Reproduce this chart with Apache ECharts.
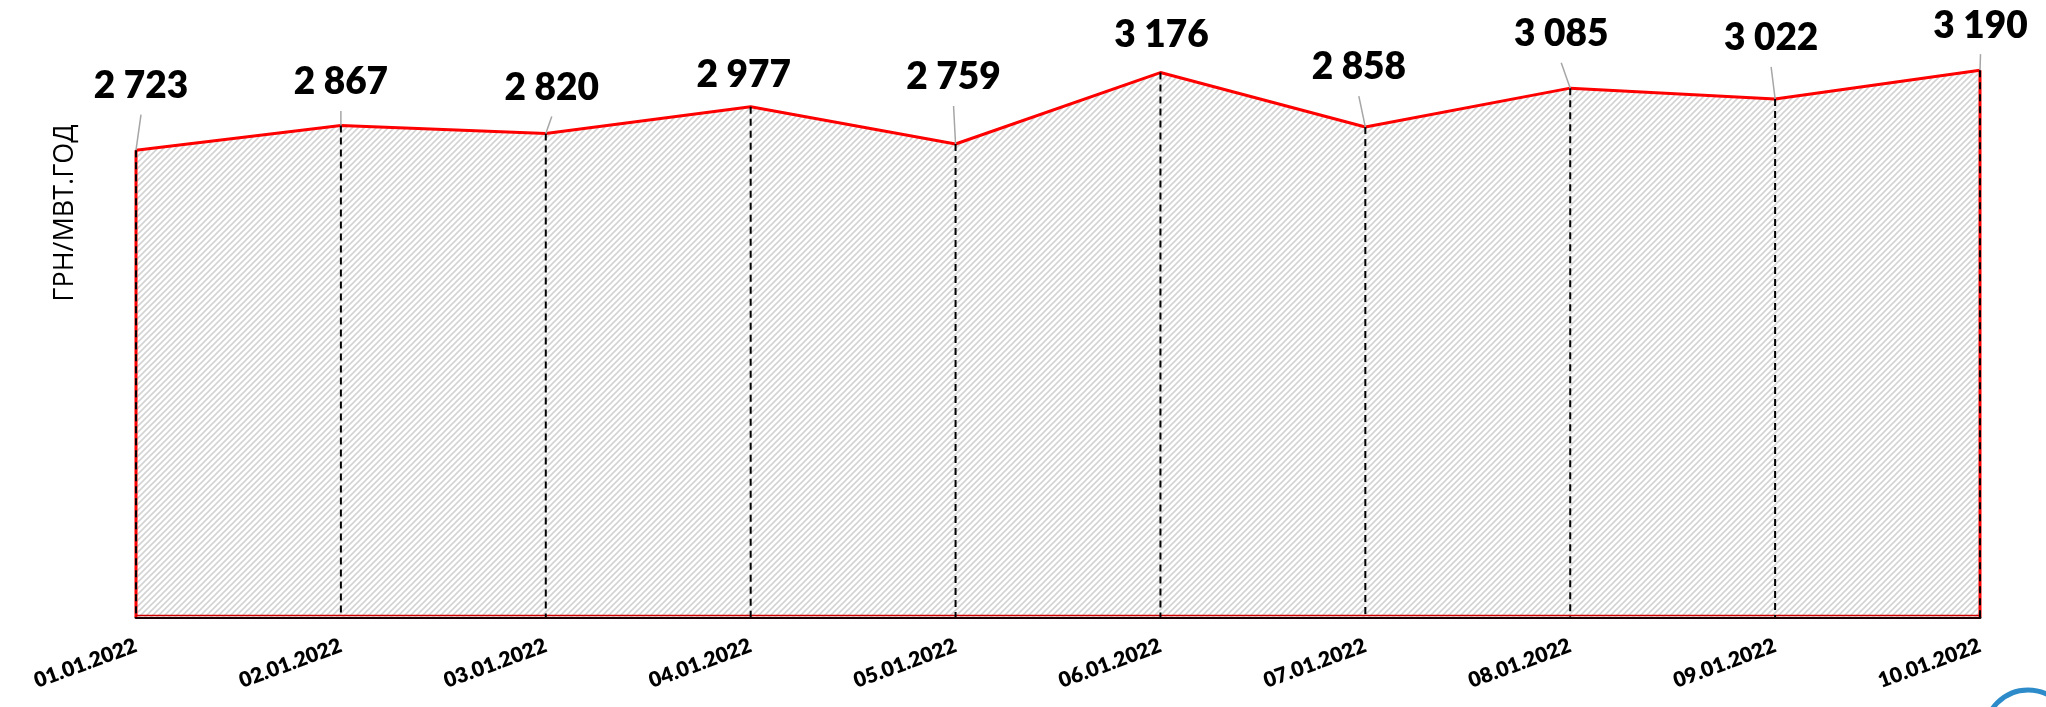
<!DOCTYPE html>
<html>
<head>
<meta charset="utf-8">
<script src="https://cdn.jsdelivr.net/npm/echarts@6/dist/echarts.min.js"></script>
<style>
html,body{margin:0;padding:0;background:#fff;}
#c{width:2046px;height:707px;}
</style>
</head>
<body>
<div id="c"></div>
<script>
// ---- data ----
const categories = ['01.01.2022','02.01.2022','03.01.2022','04.01.2022','05.01.2022',
                    '06.01.2022','07.01.2022','08.01.2022','09.01.2022','10.01.2022'];
const prices = [2723, 2867, 2820, 2977, 2759, 3176, 2858, 3085, 3022, 3190];
const yAxisTitle = 'ГРН/МВТ.ГОД';

// ---- label layout (style only): dx, dy of the label centre from its point, leader line on/off ----
const labelShift = [[5,-64,1],[0,-43,1],[6,-45.5,1],[-7,-31.5,0],[-2,-66.5,1],
                    [1,-37.5,0],[-6.5,-59.5,1],[-9,-54,1],[-4,-60.5,1],[0.5,-44.5,1]];

function fmt(v){ return String(v).replace(/\B(?=(\d{3})+(?!\d))/g, ' '); }

function hatch(){
  const n = 6;
  const c = document.createElement('canvas');
  c.width = n; c.height = n;
  const g = c.getContext('2d');
  g.fillStyle = '#ffffff'; g.fillRect(0,0,n,n);
  g.strokeStyle = '#d3d3d3'; g.lineWidth = 1.6;
  g.beginPath();
  g.moveTo(-1,n+1); g.lineTo(n+1,-1);
  g.moveTo(-1,1); g.lineTo(1,-1);
  g.moveTo(n-1,n+1); g.lineTo(n+1,n-1);
  g.stroke();
  return c;
}

const points = prices.map((v,i) => [i, v]);
const chart = echarts.init(document.getElementById('c'), null, {renderer:'canvas'});

chart.setOption({
  animation: false,
  backgroundColor: '#ffffff',
  grid: {left: 136, right: 66, top: 17, bottom: 90, containLabel: false},
  xAxis: {
    type: 'category',
    data: categories,
    boundaryGap: false,
    axisTick: {show: false},
    splitLine: {show: false},
    axisLine: {lineStyle: {color: '#1a0000', width: 3}},
    axisLabel: {
      interval: 0, rotate: 20, margin: 28,
      fontFamily: 'Lato', fontWeight: 800, fontSize: 21, color: '#000'
    }
  },
  yAxis: {
    type: 'value', min: 0, max: 3500,
    axisLine: {show: false}, axisTick: {show: false},
    axisLabel: {show: false}, splitLine: {show: false}
  },
  graphic: [
    {type: 'text', x: 65, y: 213, rotation: Math.PI/2,
     style: {text: yAxisTitle, fontFamily: 'Open Sans', fontSize: 27, fill: '#000',
             align: 'center', verticalAlign: 'middle'}},
    {type: 'arc', shape: {cx: 2028, cy: 733, r: 43, startAngle: Math.PI, endAngle: 2*Math.PI, clockwise: true},
     style: {stroke: '#2e8bc9', lineWidth: 5, fill: null}}
  ],
  series: [
    {
      type: 'line',
      data: prices,
      symbol: 'none',
      lineStyle: {color: '#ff0000', width: 3},
      areaStyle: {color: {image: hatch(), repeat: 'repeat'}, opacity: 1},
      z: 2
    },
    {
      type: 'custom',
      data: points,
      encode: {x: 0, y: 1},
      z: 3,
      renderItem: function(params, api){
        const i = api.value(0), v = api.value(1);
        const top = api.coord([i, v]);
        const bot = api.coord([i, 0]);
        const last = i === prices.length - 1;
        const children = [];
        if (i === 0 || last) {
          children.push({type:'line', shape:{x1:top[0], y1:top[1], x2:bot[0], y2:bot[1]},
                         style:{stroke:'#ff0000', lineWidth:3}});
        }
        if (i === 0) {
          const e = api.coord([prices.length - 1, 0]);
          children.push({type:'line', shape:{x1:bot[0], y1:bot[1]-1.5, x2:e[0], y2:e[1]-1.5},
                         style:{stroke:'#d00000', lineWidth:1.5}});
        }
        children.push({type:'line', shape:{x1:top[0], y1:top[1], x2:bot[0], y2:bot[1]},
                       style:{stroke:'#000', lineWidth:2, lineDash:[7,5]}});
        return {type:'group', children: children};
      }
    },
    {
      type: 'custom',
      data: points,
      encode: {x: 0, y: 1},
      z: 4,
      renderItem: function(params, api){
        const i = api.value(0), v = api.value(1);
        const p = api.coord([i, v]);
        const s = labelShift[i];
        const cx = p[0] + s[0], cy = p[1] + s[1];
        const children = [{
          type: 'text', x: cx, y: cy,
          style: {text: fmt(v), fontFamily: 'Lato', fontWeight: 800, fontSize: 37,
                  fill: '#000', align: 'center', verticalAlign: 'middle'}
        }];
        if (s[2]) {
          children.push({type:'line', shape:{x1:cx, y1:cy+28.5, x2:p[0], y2:p[1]},
                         style:{stroke:'#a6a6a6', lineWidth:1.5}});
        }
        return {type:'group', children: children};
      }
    }
  ]
});
</script>
</body>
</html>
